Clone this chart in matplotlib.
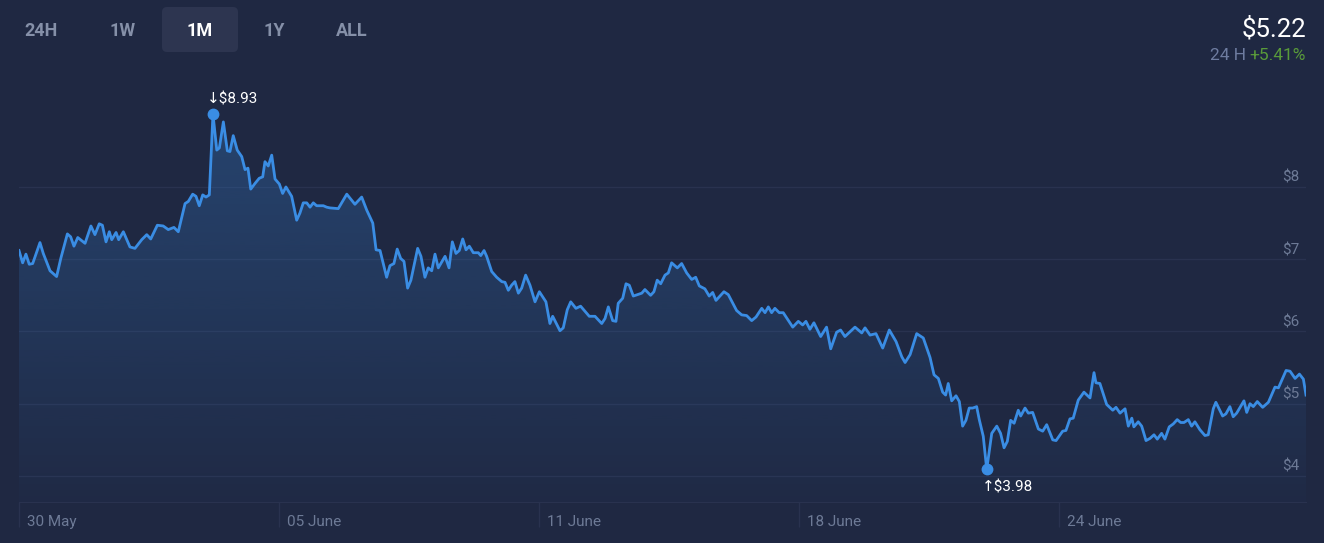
import matplotlib
matplotlib.use("Agg")
import matplotlib.pyplot as plt
import numpy as np
from matplotlib.patches import FancyBboxPatch, Polygon

# price history, hours since 30 May
hours = [0, 2.1, 4.0, 5.9, 7.9, 12.1, 14.0, 17.9, 21.7, 24.1, 27.9, 29.8, 31.7, 33.9, 38.1,
         41.5, 43.8, 46.3, 48.1, 50.2, 52.1, 53.5, 56.0, 57.5, 60.2, 64.0, 66.9, 70.8, 73.7,
         76.0, 79.8, 83.2, 86.1, 89.4, 91.9, 95.8, 97.7, 100.2, 102.1, 104.0, 106.0, 107.9,
         109.8, 111.9, 114.1, 115.6, 117.9, 120.2, 121.7, 123.6, 125.9, 128.5, 130.4, 132.1,
         133.7, 136.2, 138.6, 140.6, 141.9, 143.8, 145.8, 147.7, 150.2, 152.1, 154.0, 157.3,
         160.2, 162.1, 164.0, 166.0, 167.9, 169.8, 171.7, 175.6, 177.5, 179.4, 184.2, 189.1,
         193.8, 197.7, 200.6, 204.1, 206.0, 208.3, 212.1, 214.0, 216.3, 218.2, 220.2, 222.1,
         224.2, 226.1, 230.0, 231.9, 234.2, 236.1, 238.1, 240.0, 241.9, 245.8, 248.1, 250.0,
         252.1, 254.0, 256.0, 257.9, 259.8, 262.1, 265.0, 266.4, 268.3, 269.8, 272.7, 275.6,
         278.5, 280.4, 282.3, 284.2, 286.1, 288.1, 290.0, 292.3, 294.8, 297.7, 300.2, 304.0,
         306.3, 307.9, 312.1, 314.0, 316.3, 318.3, 321.3, 324.0, 326.5, 329.0, 332.3, 336.2,
         338.1, 340.0, 342.5, 344.4, 345.7, 348.3, 350.2, 352.1, 354.4, 359.3, 361.1, 364.4,
         366.3, 368.2, 370.2, 372.7, 374.6, 376.5, 379.8, 382.3, 385.2, 388.1, 390.4, 392.5,
         395.7, 398.2, 400.2, 402.1, 406.7, 409.2, 414.0, 416.9, 419.8, 422.7, 425.2, 428.5,
         430.4, 432.3, 434.2, 436.1, 438.6, 440.9, 446.4, 449.6, 452.1, 454.0, 456.3, 458.6,
         462.5, 465.9, 468.3, 471.7, 474.0, 476.5, 482.3, 486.2, 488.1, 491.0, 494.4, 498.3,
         502.1, 506.0, 509.3, 511.2, 514.1, 517.9, 521.7, 525.6, 527.9, 530.4, 532.9, 534.6,
         536.1, 538.1, 540.6, 542.5, 544.4, 546.3, 548.2, 550.2, 552.5, 554.0, 556.3, 558.3,
         561.2, 564.1, 566.3, 568.3, 570.2, 572.1, 574.1, 576.5, 577.9, 580.4, 582.3, 584.8,
         588.1, 590.6, 592.9, 596.4, 598.3, 602.1, 604.0, 606.3, 608.2, 611.1, 614.4, 617.9,
         620.2, 621.3, 623.6, 627.5, 631.0, 632.9, 635.2, 638.1, 640.0, 642.0, 643.2, 645.7,
         647.7, 650.2, 652.5, 654.8, 656.7, 659.2, 661.1, 663.6, 665.9, 668.2, 670.2, 672.1,
         674.6, 676.5, 678.4, 681.3, 684.2, 686.1, 689.0, 690.5, 694.4, 696.3, 698.6, 700.5,
         702.5, 706.7, 708.3, 710.2, 712.1, 714.4, 717.5, 720.8, 724.6, 726.6, 731.0, 733.3,
         736.2, 738.7, 741.0, 742.5]
prices = [7.12, 6.95, 7.07, 6.93, 6.94, 7.23, 7.08, 6.84, 6.76, 7.01, 7.35, 7.31, 7.18, 7.30, 7.22,
          7.46, 7.34, 7.49, 7.47, 7.24, 7.38, 7.27, 7.37, 7.27, 7.38, 7.17, 7.15, 7.27, 7.34,
          7.28, 7.47, 7.46, 7.41, 7.44, 7.38, 7.77, 7.80, 7.90, 7.87, 7.74, 7.89, 7.86,
          7.89, 9.01, 8.51, 8.54, 8.90, 8.50, 8.49, 8.71, 8.51, 8.42, 8.24, 8.26,
          7.97, 8.05, 8.12, 8.14, 8.35, 8.29, 8.44, 8.11, 8.04, 7.91, 8.00, 7.87,
          7.54, 7.64, 7.78, 7.78, 7.72, 7.78, 7.74, 7.74, 7.72, 7.71, 7.70, 7.90,
          7.76, 7.86, 7.68, 7.50, 7.13, 7.12, 6.75, 6.91, 6.94, 7.14, 7.01, 6.97,
          6.60, 6.71, 7.15, 7.04, 6.75, 6.88, 6.84, 7.07, 6.88, 7.04, 6.88, 7.24,
          7.08, 7.12, 7.28, 7.13, 7.18, 7.09, 7.09, 7.05, 7.12, 7.04, 6.83, 6.75,
          6.69, 6.68, 6.57, 6.64, 6.69, 6.53, 6.60, 6.78, 6.64, 6.41, 6.55, 6.41,
          6.11, 6.21, 6.01, 6.05, 6.30, 6.41, 6.32, 6.35, 6.28, 6.21, 6.21, 6.11,
          6.18, 6.34, 6.15, 6.14, 6.39, 6.46, 6.66, 6.64, 6.49, 6.53, 6.58, 6.50,
          6.55, 6.71, 6.66, 6.78, 6.81, 6.95, 6.88, 6.94, 6.81, 6.72, 6.75, 6.63,
          6.59, 6.49, 6.54, 6.43, 6.55, 6.51, 6.29, 6.23, 6.22, 6.15, 6.20, 6.32,
          6.26, 6.34, 6.26, 6.32, 6.26, 6.26, 6.06, 6.14, 6.09, 6.14, 6.03, 6.12,
          5.93, 6.06, 5.76, 5.99, 6.02, 5.93, 6.06, 5.98, 6.05, 5.95, 5.97, 5.77,
          6.02, 5.86, 5.65, 5.57, 5.68, 5.97, 5.91, 5.64, 5.40, 5.35, 5.16, 5.12,
          5.28, 5.04, 5.11, 5.03, 4.69, 4.77, 4.94, 4.94, 4.96, 4.78, 4.55, 4.09,
          4.59, 4.69, 4.59, 4.39, 4.48, 4.77, 4.73, 4.91, 4.83, 4.94, 4.87, 4.88,
          4.65, 4.62, 4.71, 4.50, 4.49, 4.62, 4.63, 4.79, 4.80, 5.05, 5.16, 5.08,
          5.43, 5.29, 5.28, 4.99, 4.91, 4.95, 4.87, 4.93, 4.69, 4.80, 4.68, 4.75,
          4.69, 4.49, 4.52, 4.57, 4.51, 4.59, 4.51, 4.68, 4.72, 4.78, 4.74, 4.74,
          4.78, 4.69, 4.75, 4.64, 4.56, 4.57, 4.93, 5.02, 4.83, 4.86, 4.96, 4.82,
          4.87, 5.04, 4.88, 5.00, 4.96, 5.03, 4.95, 5.02, 5.23, 5.22, 5.46, 5.45,
          5.35, 5.41, 5.34, 5.12]

tick_hours = [0, 150, 300, 450, 600]
tick_labels = ["30 May", "05 June", "11 June", "18 June", "24 June"]
price_ticks = [4, 5, 6, 7, 8]
ranges = ["24H", "1W", "1M", "1Y", "ALL"]
active_range = "1M"
last_price = "$5.22"
change_24h = "+5.41%"
high_label = "$8.93"
low_label = "$3.98"

bg = "#1f2842"
grid_col = "#29324f"
line_col = "#3a8de4"
muted = "#6d7a96"

plt.rcParams["font.family"] = ["Roboto", "DejaVu Sans"]

W, H = 1324, 543
fig = plt.figure(figsize=(W / 100, H / 100), dpi=100, facecolor=bg)
ax = fig.add_axes([19 / W, 41 / H, 1287 / W, 422 / H])
ax.set_facecolor(bg)

x = np.array(hours)
y = np.array(prices)
ymin, ymax = 3.64, 9.48
ax.set_xlim(x[0], x[-1])
ax.set_ylim(ymin, ymax)

for v in price_ticks:
    ax.axhline(v, color=grid_col, lw=1, zorder=1)
    ax.annotate(f"${v}", xy=(0.995, v), xycoords=("axes fraction", "data"),
                xytext=(0, 2), textcoords="offset pixels",
                ha="right", va="bottom", color=muted, fontsize=11)

# gradient fill under the line
top = y.max()
grad = np.zeros((256, 1, 4))
grad[:, 0, :3] = matplotlib.colors.to_rgb(line_col)
grad[:, 0, 3] = np.linspace(0.28, 0.02, 256)
img = ax.imshow(grad, aspect="auto", extent=(x[0], x[-1], ymin, top),
                origin="upper", zorder=2)
poly = Polygon(np.column_stack([np.r_[x[0], x, x[-1]], np.r_[ymin, y, ymin]]),
               closed=True, facecolor="none", edgecolor="none")
ax.add_patch(poly)
img.set_clip_path(poly)

ax.plot(x, y, color=line_col, lw=2, zorder=3, solid_joinstyle="round")

# high / low markers
i_hi = int(np.argmax(y))
i_lo = int(np.argmin(y))
ax.plot([x[i_hi], x[i_lo]], [y[i_hi], y[i_lo]], "o", color=line_col, ms=7.5, zorder=4)
ax.annotate("\u2193" + high_label, xy=(x[i_hi], y[i_hi]), xytext=(-6, 14),
            textcoords="offset pixels", ha="left", va="center", color="white", fontsize=11)
ax.annotate("\u2191" + low_label, xy=(x[i_lo], y[i_lo]), xytext=(-5, -18),
            textcoords="offset pixels", ha="left", va="center", color="white", fontsize=11)

# axes frame
for s in ["top", "left", "right"]:
    ax.spines[s].set_visible(False)
ax.spines["bottom"].set_color(grid_col)
ax.set_yticks([])
ax.set_xticks(tick_hours)
ax.set_xticklabels([])
ax.tick_params(axis="x", direction="out", length=18, width=1, color=grid_col)
for h, lab in zip(tick_hours, tick_labels):
    ax.annotate(lab, xy=(h, 0), xycoords=("data", "axes fraction"),
                xytext=(8, -20), textcoords="offset pixels",
                ha="left", va="center", color=muted, fontsize=11)

# range selector
tab_x = [41, 123, 200, 274, 352]
for lab, cx in zip(ranges, tab_x):
    if lab == active_range:
        box = FancyBboxPatch((1.62, (H - 52) / 100), 0.76, 0.45,
                             boxstyle="round,pad=0,rounding_size=0.05",
                             transform=fig.dpi_scale_trans,
                             facecolor="#2d3550", edgecolor="none")
        fig.patches.append(box)
    fig.text(cx / W, 1 - 31 / H, lab, ha="center", va="center", fontsize=13,
             fontweight="bold", color="white" if lab == active_range else "#8590a8")

# current price
fig.text(1306 / W, 1 - 29 / H, last_price, ha="right", va="center",
         fontsize=18.5, color="white")
chg = fig.text(1306 / W, 1 - 56 / H, change_24h, ha="right", va="center",
               fontsize=12.5, color="#599a3a")
fig.canvas.draw()
bb = chg.get_window_extent()
fig.text((bb.x0 - 4) / W, 1 - 56 / H, "24 H", ha="right", va="center",
         fontsize=12.5, color="#6e7ca0")

fig.savefig("out.png", dpi=100, facecolor=bg)
